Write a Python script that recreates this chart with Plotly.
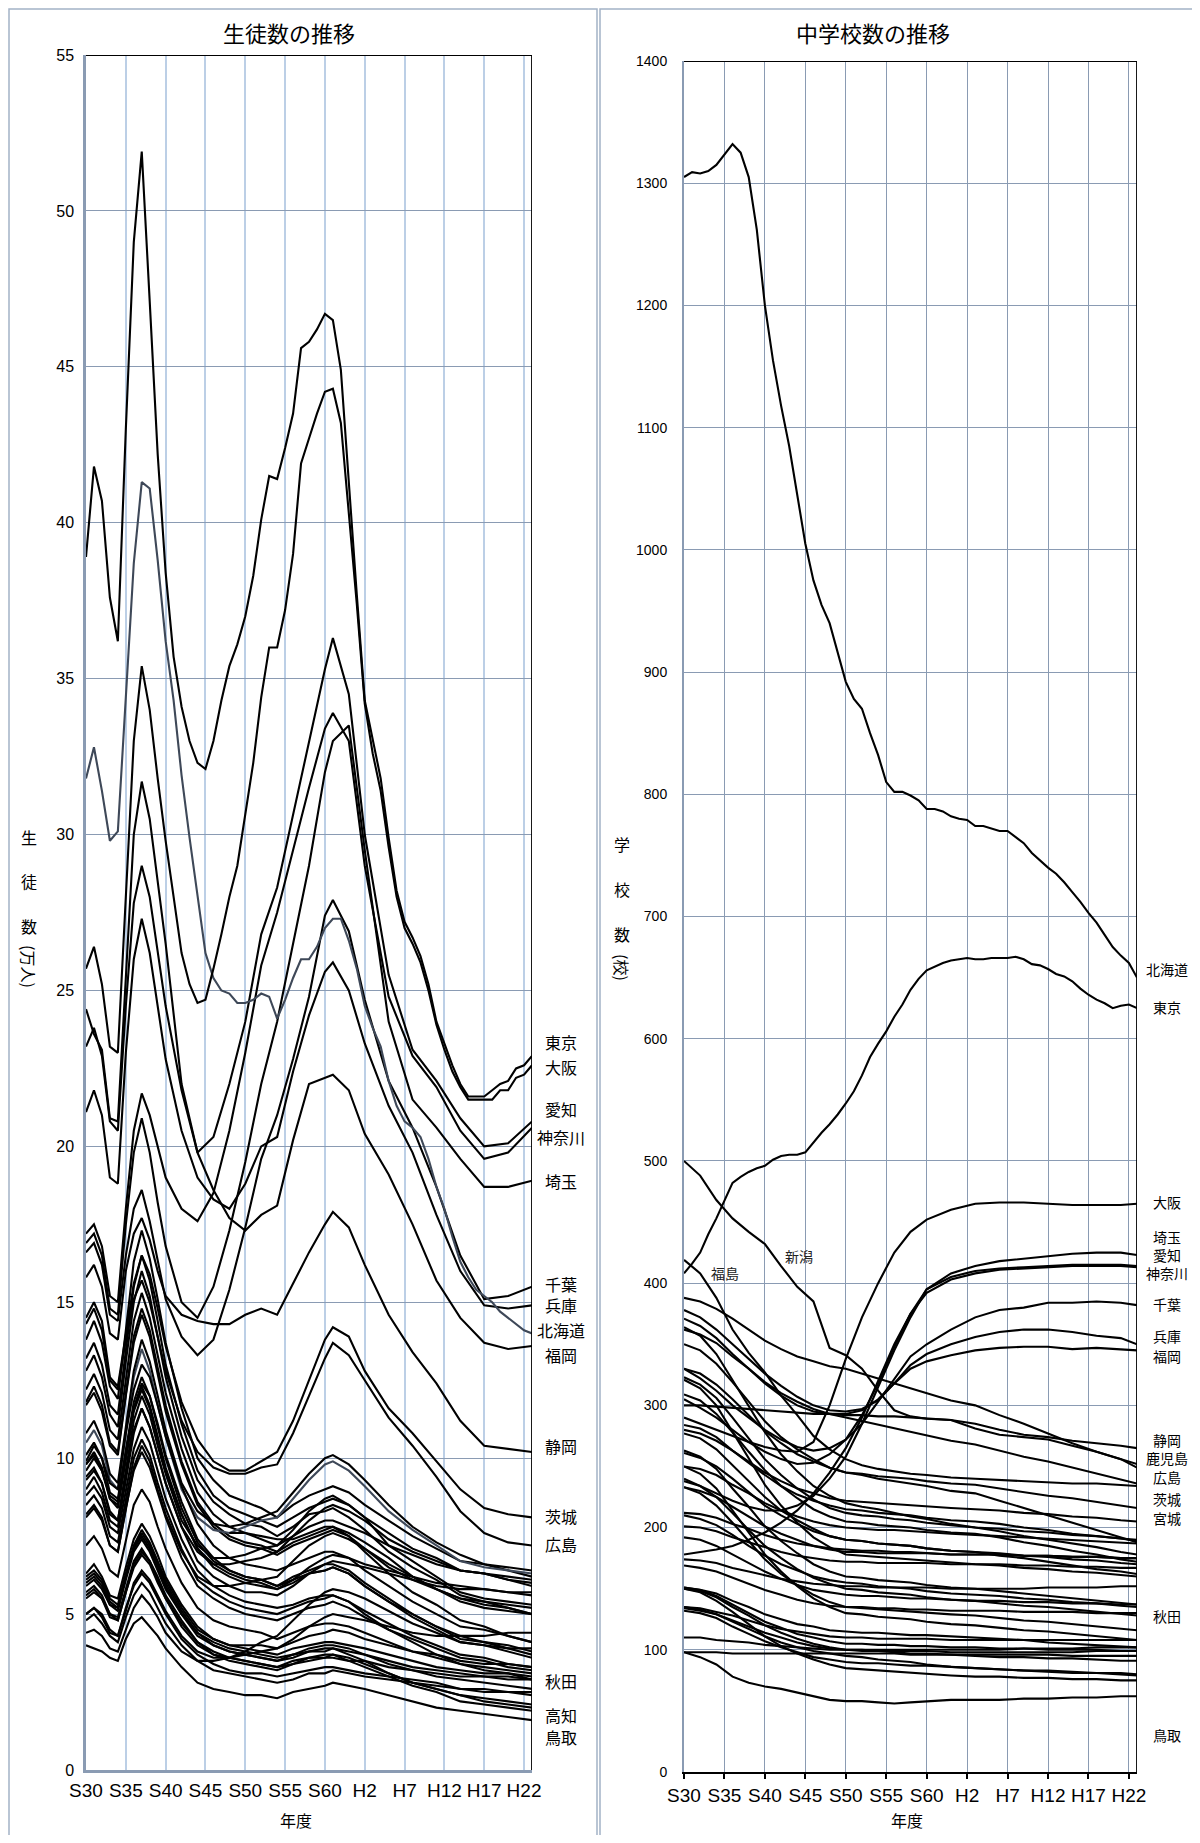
import plotly.graph_objects as go

# page body has an 8px margin: figure is sized/placed so the page matches 1200x1843
OFF = 8
W, H = 1184, 1827

YEARS = list(range(1955, 2012))
LKEY = [1955, 1956, 1957, 1958, 1959, 1960, 1961, 1962, 1963, 1964, 1965, 1967, 1969, 1971, 1973,
        1975, 1977, 1979, 1981, 1983, 1985, 1986, 1988, 1990, 1993, 1996, 1999, 2002, 2005, 2008, 2011]
RKEY = [1955, 1957, 1959, 1961, 1963, 1965, 1967, 1969, 1971, 1973, 1975, 1977, 1979, 1981, 1983,
        1985, 1988, 1991, 1994, 1997, 2000, 2003, 2006, 2009, 2011]
TICK_YEARS = [1955, 1960, 1965, 1970, 1975, 1980, 1985, 1990, 1995, 2000, 2005, 2010]
TICK_TEXT = ["S30", "S35", "S40", "S45", "S50", "S55", "S60", "H2", "H7", "H12", "H17", "H22"]

# ---------------- 生徒数 (万人) : yearly series ----------------
ST_TOKYO = [38.9, 41.8, 40.7, 37.6, 36.2, 43.0, 49.0, 51.9, 47.1, 42.2,
            38.4, 35.7, 34.1, 33.0, 32.3, 32.1, 33.0, 34.3, 35.4, 36.1,
            37.0, 38.3, 40.1, 41.5, 41.4, 42.4, 43.5, 45.6, 45.8, 46.2,
            46.7, 46.5, 44.9, 41.2, 37.7, 34.3, 33.0, 31.8, 29.9, 28.2,
            27.2, 26.7, 26.1, 25.2, 24.0, 23.3, 22.6, 22.0, 21.6, 21.6,
            21.6, 21.8, 22.0, 22.1, 22.5, 22.6, 22.9]
ST_OSAKA = [25.7, 26.4, 25.2, 23.2, 23.0, 28.0, 33.0, 35.4, 34.0, 31.8,
            29.8, 28.0, 26.2, 25.2, 24.6, 24.7, 25.7, 26.8, 28.0, 29.0,
            30.6, 32.3, 34.4, 36.0, 36.0, 37.2, 39.0, 41.9, 42.7, 43.5,
            44.2, 44.3, 43.2, 40.4, 37.4, 34.2, 32.6, 31.4, 29.6, 28.0,
            27.0, 26.5, 25.9, 25.0, 23.9, 23.1, 22.4, 21.9, 21.5, 21.5,
            21.5, 21.5, 21.8, 21.8, 22.2, 22.3, 22.6]
ST_HOKKAIDO = [31.8, 32.8, 31.4, 29.8, 30.1, 34.5, 38.7, 41.3, 41.1, 38.8,
               36.2, 34.3, 31.9, 29.9, 28.0, 26.2, 25.4, 25.0, 24.9, 24.6,
               24.6, 24.7, 24.9, 24.8, 24.1, 24.7, 25.4, 26.0, 26.0, 26.4,
               27.0, 27.3, 27.3, 26.6, 25.7, 24.5, 23.8, 23.2, 22.1, 21.3,
               20.8, 20.6, 20.3, 19.6, 18.7, 18.0, 17.1, 16.3, 15.8, 15.4,
               15.2, 15.0, 14.7, 14.5, 14.3, 14.1, 14.0]

# ---------------- 生徒数 : key-year series (LKEY) ----------------
ST_AICHI = [24.4, 23.6, 23.1, 20.9, 20.8, 25.5, 30.0, 31.7, 30.5, 28.5, 26.5, 22.0, 19.8, 20.3, 22.0, 24.0, 26.8, 28.3, 30.6, 33.0, 35.3, 36.3, 34.5, 30.0, 25.5, 23.1, 22.1, 20.9, 20.0, 20.1, 20.8]
ST_KANAGAWA = [17.2, 17.5, 16.8, 15.2, 15.0, 18.0, 20.5, 21.7, 21.0, 20.0, 19.0, 18.0, 17.6, 18.5, 20.5, 23.0, 25.8, 27.5, 29.5, 31.5, 33.4, 33.9, 33.0, 29.0, 24.8, 22.9, 21.9, 20.5, 19.6, 19.8, 20.6]
ST_SAITAMA = [16.9, 17.2, 16.5, 14.8, 14.6, 17.5, 19.8, 20.9, 19.8, 18.2, 16.8, 15.0, 14.5, 15.5, 17.3, 19.5, 22.0, 24.0, 26.5, 29.0, 32.0, 33.0, 33.5, 29.5, 24.0, 21.5, 20.6, 19.6, 18.7, 18.7, 18.9]
ST_CHIBA = [16.6, 16.9, 16.2, 14.6, 14.4, 16.5, 18.0, 18.6, 17.6, 16.3, 15.1, 13.9, 13.3, 13.8, 15.4, 17.4, 19.6, 21.0, 22.8, 24.8, 27.4, 27.9, 26.9, 24.7, 22.1, 20.6, 18.7, 16.5, 15.1, 15.2, 15.5]
ST_HYOGO = [21.1, 21.8, 21.0, 19.0, 18.8, 23.0, 26.0, 27.3, 26.2, 24.5, 22.8, 20.5, 19.0, 18.3, 18.0, 18.8, 20.0, 20.3, 22.4, 24.2, 25.6, 25.9, 25.0, 23.3, 21.3, 19.8, 17.8, 16.0, 14.9, 14.8, 14.9]
ST_FUKUOKA = [23.2, 23.8, 22.9, 20.8, 20.5, 24.5, 27.8, 29.0, 28.0, 26.3, 24.5, 21.8, 19.8, 18.6, 17.7, 17.3, 17.8, 18.1, 20.2, 22.0, 22.2, 22.3, 21.8, 20.4, 19.1, 17.5, 15.7, 14.5, 13.7, 13.5, 13.6]
ST_SHIZUOKA = [15.8, 16.2, 15.5, 14.0, 13.8, 16.0, 17.2, 17.7, 17.0, 16.0, 15.2, 14.6, 14.4, 14.3, 14.3, 14.6, 14.8, 14.6, 15.6, 16.6, 17.5, 17.9, 17.4, 16.2, 14.6, 13.4, 12.4, 11.2, 10.4, 10.3, 10.2]
ST_IBARAKI = [14.5, 15.0, 14.4, 12.6, 12.3, 14.0, 15.6, 16.5, 15.9, 14.8, 13.6, 11.8, 10.6, 9.9, 9.6, 9.6, 9.9, 10.2, 11.2, 12.5, 13.8, 14.2, 13.9, 12.8, 11.6, 10.8, 9.9, 9.0, 8.4, 8.2, 8.1]
ST_HIROSHIMA = [14.3, 14.8, 14.1, 12.5, 12.2, 13.8, 15.1, 15.7, 15.0, 13.9, 12.8, 11.2, 10.2, 9.7, 9.5, 9.5, 9.7, 9.8, 10.8, 12.0, 13.2, 13.7, 13.3, 12.5, 11.3, 10.4, 9.4, 8.3, 7.6, 7.3, 7.2]
ST_NIIGATA = [13.8, 14.4, 13.7, 12.3, 11.9, 14.2, 16.3, 17.3, 16.4, 15.1, 13.7, 11.6, 10.0, 9.3, 8.8, 8.6, 8.4, 8.1, 8.5, 8.8, 9.0, 9.1, 8.9, 8.5, 8.0, 7.5, 7.1, 6.7, 6.6, 6.4, 6.2]
ST_KAGOSHIMA = [12.8, 13.3, 12.6, 11.4, 11.0, 13.1, 15.0, 16.0, 15.2, 13.9, 12.6, 10.7, 9.3, 8.6, 8.2, 7.9, 7.8, 7.5, 7.8, 8.2, 8.3, 8.4, 8.1, 7.7, 7.0, 6.5, 6.1, 5.6, 5.4, 5.2, 5.0]
ST_NAGANO = [12.2, 12.7, 12.1, 10.9, 10.6, 12.5, 14.4, 15.3, 14.5, 13.3, 12.1, 10.3, 8.9, 8.2, 7.8, 7.6, 7.4, 7.2, 7.5, 7.8, 8.0, 8.0, 7.8, 7.6, 7.2, 6.9, 6.6, 6.4, 6.3, 6.1, 6.0]
ST_FUKUSHIMA = [13.2, 13.7, 13.0, 11.7, 11.4, 13.5, 15.5, 16.5, 15.7, 14.4, 13.0, 11.1, 9.6, 8.8, 8.4, 8.2, 8.0, 7.8, 8.1, 8.4, 8.6, 8.7, 8.5, 8.1, 7.6, 7.1, 6.8, 6.4, 6.3, 6.1, 5.9]
ST_KUMAMOTO = [11.7, 12.1, 11.5, 10.4, 10.1, 12.0, 13.7, 14.6, 13.9, 12.7, 11.5, 9.8, 8.5, 7.8, 7.4, 7.2, 7.1, 6.9, 7.2, 7.4, 7.6, 7.7, 7.5, 7.1, 6.6, 6.2, 5.8, 5.5, 5.3, 5.2, 5.0]
ST_NAGASAKI = [11.8, 12.3, 11.7, 10.5, 10.2, 12.1, 13.9, 14.8, 14.1, 12.9, 11.7, 9.9, 8.6, 7.9, 7.5, 7.3, 7.2, 7.0, 7.3, 7.5, 7.7, 7.8, 7.5, 7.0, 6.3, 5.7, 5.3, 4.8, 4.6, 4.3, 4.1]
ST_MIYAGI = [10.5, 10.9, 10.4, 9.3, 9.0, 10.8, 12.6, 13.5, 12.8, 11.7, 10.7, 9.0, 8.1, 7.7, 7.6, 7.8, 8.0, 8.1, 8.7, 9.3, 9.8, 9.9, 9.6, 9.1, 8.3, 7.7, 7.2, 6.7, 6.5, 6.4, 6.3]
ST_OKAYAMA = [9.4, 9.7, 9.2, 8.3, 8.0, 9.6, 11.2, 12.0, 11.4, 10.4, 9.5, 8.0, 7.2, 6.8, 6.8, 6.9, 7.1, 7.2, 7.7, 8.3, 8.7, 8.8, 8.5, 8.1, 7.2, 6.7, 6.2, 5.7, 5.5, 5.4, 5.3]
ST_KYOTO = [10.8, 11.2, 10.6, 9.5, 9.2, 11.0, 12.8, 13.8, 13.1, 12.0, 10.9, 9.2, 8.3, 7.9, 7.8, 7.9, 8.1, 8.3, 8.9, 9.5, 10.0, 10.1, 9.8, 9.3, 8.5, 7.8, 7.3, 6.9, 6.6, 6.5, 6.4]
ST_GIFU = [9.0, 9.4, 8.9, 8.0, 7.8, 9.3, 10.8, 11.6, 11.0, 10.1, 9.2, 7.8, 7.0, 6.6, 6.6, 6.7, 6.8, 7.0, 7.5, 8.0, 8.4, 8.5, 8.3, 8.0, 7.4, 7.0, 6.7, 6.4, 6.3, 6.2, 6.1]
ST_GUNMA = [9.8, 10.1, 9.6, 8.7, 8.4, 10.0, 11.5, 12.2, 11.6, 10.6, 9.6, 8.2, 7.1, 6.5, 6.2, 6.0, 5.9, 5.8, 6.1, 6.5, 6.8, 6.9, 6.8, 6.6, 6.4, 6.2, 6.0, 5.9, 5.8, 5.7, 5.6]
ST_TOCHIGI = [9.3, 9.6, 9.2, 8.2, 8.0, 9.5, 10.9, 11.6, 11.0, 10.1, 9.2, 7.8, 6.7, 6.2, 5.9, 5.7, 5.7, 5.6, 5.9, 6.3, 6.6, 6.7, 6.6, 6.5, 6.3, 6.1, 5.9, 5.8, 5.8, 5.7, 5.7]
ST_YAMAGUCHI = [9.8, 10.2, 9.7, 8.7, 8.5, 10.1, 11.6, 12.3, 11.7, 10.7, 9.7, 8.2, 7.1, 6.6, 6.3, 6.1, 6.0, 5.8, 6.0, 6.3, 6.4, 6.5, 6.3, 5.9, 5.4, 4.9, 4.5, 4.1, 4.0, 3.8, 3.6]
ST_EHIME = [10.1, 10.5, 10.0, 8.9, 8.7, 10.3, 11.8, 12.6, 12.0, 11.0, 10.0, 8.4, 7.3, 6.7, 6.4, 6.2, 6.1, 5.9, 6.2, 6.4, 6.6, 6.6, 6.4, 6.0, 5.5, 5.0, 4.6, 4.2, 4.1, 3.9, 3.7]
ST_AOMORI = [9.9, 10.4, 10.0, 9.2, 9.0, 10.8, 12.2, 13.0, 12.6, 11.7, 10.7, 9.1, 7.9, 7.2, 6.8, 6.6, 6.5, 6.4, 6.6, 6.8, 7.0, 7.0, 6.8, 6.4, 5.9, 5.4, 5.0, 4.6, 4.5, 4.3, 4.1]
ST_IWATE = [9.6, 10.0, 9.6, 8.8, 8.6, 10.2, 11.6, 12.4, 12.0, 11.1, 10.1, 8.6, 7.4, 6.8, 6.4, 6.2, 6.1, 5.9, 6.1, 6.3, 6.4, 6.5, 6.3, 5.9, 5.4, 5.0, 4.6, 4.3, 4.1, 4.0, 3.8]
ST_AKITA = [8.8, 9.1, 8.7, 7.8, 7.6, 9.0, 10.3, 11.0, 10.5, 9.6, 8.7, 7.4, 6.4, 5.9, 5.6, 5.4, 5.3, 5.2, 5.3, 5.5, 5.6, 5.6, 5.4, 5.0, 4.5, 4.1, 3.7, 3.4, 3.2, 3.1, 2.9]
ST_YAMAGATA = [8.5, 8.8, 8.4, 7.5, 7.3, 8.7, 10.0, 10.6, 10.1, 9.2, 8.4, 7.1, 6.1, 5.7, 5.4, 5.2, 5.1, 5.0, 5.2, 5.4, 5.5, 5.6, 5.4, 5.1, 4.7, 4.3, 4.0, 3.7, 3.6, 3.4, 3.3]
ST_MIE = [8.1, 8.4, 8.0, 7.2, 7.0, 8.3, 9.7, 10.4, 9.9, 9.0, 8.2, 7.0, 6.2, 5.9, 5.9, 6.0, 6.1, 6.2, 6.7, 7.2, 7.5, 7.6, 7.4, 7.1, 6.5, 6.1, 5.8, 5.5, 5.4, 5.3, 5.2]
ST_OITA = [8.2, 8.5, 8.1, 7.2, 7.0, 8.4, 9.6, 10.2, 9.7, 8.9, 8.1, 6.8, 5.9, 5.5, 5.2, 5.0, 4.9, 4.8, 5.0, 5.2, 5.3, 5.4, 5.2, 4.9, 4.5, 4.2, 3.9, 3.6, 3.5, 3.3, 3.2]
ST_MIYAZAKI = [7.2, 7.5, 7.1, 6.4, 6.2, 7.4, 8.5, 9.0, 8.6, 7.8, 7.1, 6.0, 5.2, 4.8, 4.6, 4.5, 4.4, 4.2, 4.4, 4.6, 4.7, 4.7, 4.6, 4.4, 4.1, 3.8, 3.6, 3.4, 3.3, 3.2, 3.1]
ST_SAGA = [6.1, 6.3, 6.0, 5.4, 5.2, 6.2, 7.1, 7.6, 7.2, 6.6, 6.0, 5.1, 4.4, 4.1, 3.9, 3.8, 3.7, 3.6, 3.7, 3.9, 4.0, 4.0, 3.9, 3.7, 3.4, 3.2, 3.0, 2.9, 2.8, 2.7, 2.6]
ST_TOYAMA = [6.3, 6.6, 6.2, 5.6, 5.5, 6.5, 7.4, 7.9, 7.5, 6.9, 6.2, 5.3, 4.6, 4.2, 4.0, 3.9, 3.8, 3.7, 3.9, 4.0, 4.1, 4.1, 4.0, 3.9, 3.7, 3.5, 3.3, 3.2, 3.1, 3.1, 3.0]
ST_ISHIKAWA = [6.2, 6.4, 6.1, 5.5, 5.3, 6.3, 7.2, 7.7, 7.3, 6.7, 6.1, 5.2, 4.5, 4.2, 4.0, 4.0, 4.0, 3.9, 4.1, 4.3, 4.4, 4.5, 4.4, 4.2, 4.0, 3.8, 3.7, 3.5, 3.4, 3.4, 3.3]
ST_WAKAYAMA = [5.9, 6.1, 5.8, 5.3, 5.1, 6.1, 7.0, 7.4, 7.0, 6.4, 5.8, 5.0, 4.3, 4.0, 3.8, 3.7, 3.6, 3.5, 3.6, 3.8, 3.8, 3.9, 3.8, 3.7, 3.5, 3.3, 3.2, 3.1, 3.0, 3.0, 2.9]
ST_KAGAWA = [5.5, 5.7, 5.5, 4.9, 4.8, 5.7, 6.5, 6.9, 6.6, 6.0, 5.5, 4.6, 4.0, 3.7, 3.5, 3.4, 3.3, 3.2, 3.4, 3.5, 3.6, 3.6, 3.5, 3.5, 3.3, 3.2, 3.1, 3.0, 3.0, 2.9, 2.9]
ST_TOKUSHIMA = [5.7, 5.9, 5.6, 5.0, 4.9, 5.8, 6.7, 7.1, 6.7, 6.2, 5.6, 4.8, 4.1, 3.8, 3.6, 3.5, 3.4, 3.3, 3.5, 3.6, 3.7, 3.7, 3.6, 3.4, 3.1, 2.8, 2.6, 2.4, 2.3, 2.2, 2.1]
ST_SHIMANE = [6.0, 6.2, 5.9, 5.3, 5.2, 6.2, 7.1, 7.5, 7.1, 6.5, 5.9, 5.0, 4.4, 4.0, 3.8, 3.7, 3.6, 3.5, 3.7, 3.8, 3.9, 3.9, 3.7, 3.5, 3.1, 2.8, 2.6, 2.4, 2.2, 2.1, 2.0]
ST_KOCHI = [5.6, 5.8, 5.5, 5.0, 4.8, 5.7, 6.6, 7.0, 6.7, 6.1, 5.5, 4.7, 4.1, 3.7, 3.6, 3.5, 3.4, 3.3, 3.4, 3.6, 3.6, 3.7, 3.5, 3.3, 3.0, 2.7, 2.5, 2.2, 2.1, 2.0, 1.9]
ST_YAMANASHI = [5.0, 5.2, 5.0, 4.5, 4.3, 5.2, 5.9, 6.3, 6.0, 5.5, 5.0, 4.2, 3.7, 3.4, 3.2, 3.1, 3.1, 3.0, 3.1, 3.2, 3.3, 3.3, 3.2, 3.1, 3.0, 2.9, 2.8, 2.6, 2.6, 2.5, 2.5]
ST_FUKUI = [4.8, 5.0, 4.7, 4.3, 4.1, 4.9, 5.6, 6.0, 5.7, 5.2, 4.7, 4.0, 3.5, 3.2, 3.1, 3.0, 2.9, 2.8, 2.9, 3.1, 3.1, 3.2, 3.1, 3.0, 2.9, 2.8, 2.7, 2.6, 2.5, 2.5, 2.4]
ST_SHIGA = [5.0, 5.2, 4.9, 4.4, 4.3, 5.1, 6.0, 6.4, 6.1, 5.6, 5.1, 4.3, 3.8, 3.6, 3.6, 3.7, 3.8, 3.9, 4.2, 4.6, 4.9, 5.0, 4.9, 4.8, 4.6, 4.4, 4.3, 4.3, 4.3, 4.4, 4.4]
ST_NARA = [4.4, 4.5, 4.3, 3.9, 3.8, 4.5, 5.2, 5.6, 5.3, 4.9, 4.4, 3.8, 3.5, 3.5, 3.6, 3.8, 4.1, 4.3, 4.8, 5.3, 5.7, 5.8, 5.7, 5.5, 5.1, 4.7, 4.4, 4.1, 4.0, 3.9, 3.9]
ST_TOTTORI = [4.0, 3.9, 3.8, 3.6, 3.5, 4.2, 4.7, 4.9, 4.6, 4.3, 3.9, 3.3, 2.8, 2.6, 2.5, 2.4, 2.4, 2.3, 2.5, 2.6, 2.7, 2.8, 2.7, 2.6, 2.4, 2.2, 2.0, 1.9, 1.8, 1.7, 1.6]
ST_OKINAWA = [None, None, None, None, None, None, None, None, None, None, None, None, None, None,
              7.6, 7.6, 7.5, 7.4, 7.4, 7.6, 7.8, 7.8, 7.6, 7.3, 6.8, 6.2, 5.8, 5.4, 5.2, 5.1, 5.0]

# ---------------- 中学校数 (校) ----------------
SC_HOKKAIDO = [1305, 1309, 1308, 1310, 1315, 1324, 1332, 1325, 1305, 1262,
               1200, 1155, 1118, 1085, 1045, 1005, 975, 955, 940, 915,
               892, 878, 870, 850, 832, 810, 802, 802, 799, 795,
               788, 788, 786, 782, 780, 779, 774, 774, 772, 770,
               770, 765, 760, 752, 746, 740, 735, 728, 720, 712,
               703, 695, 685, 675, 668, 662, 650]
SC_TOKYO = [408, 416, 425, 440, 453, 468, 482, 487, 491, 494,
            496, 501, 504, 505, 505, 507, 515, 523, 530, 538,
            547, 557, 570, 585, 596, 606, 618, 628, 640, 649,
            656, 659, 662, 664, 665, 666, 665, 665, 666, 666,
            666, 667, 665, 661, 660, 657, 653, 651, 647, 641,
            636, 632, 629, 625, 627, 628, 625]
SC_OSAKA = [290, 285, 280, 275, 270, 266, 263, 262, 270, 300, 338, 372, 400, 425, 442, 452, 460, 465, 466, 466, 465, 464, 464, 464, 465]
SC_SAITAMA = [240, 234, 228, 222, 217, 214, 214, 218, 226, 240, 258, 285, 315, 345, 372, 395, 408, 414, 418, 420, 422, 424, 425, 425, 423]
SC_AICHI = [305, 298, 290, 280, 270, 262, 256, 252, 253, 260, 272, 292, 318, 348, 375, 395, 405, 410, 412, 413, 414, 415, 415, 415, 414]
SC_KANAGAWA = [178, 180, 182, 185, 190, 196, 204, 214, 228, 245, 265, 290, 320, 350, 375, 392, 403, 408, 411, 412, 413, 414, 414, 414, 413]
SC_CHIBA = [330, 322, 312, 300, 290, 280, 272, 266, 263, 265, 272, 285, 303, 322, 340, 350, 362, 372, 378, 380, 384, 384, 385, 384, 382]
SC_HYOGO = [378, 372, 362, 350, 338, 326, 316, 307, 300, 296, 295, 297, 304, 318, 333, 342, 350, 356, 360, 362, 362, 360, 357, 355, 350]
SC_FUKUOKA = [371, 365, 355, 342, 330, 318, 308, 300, 295, 293, 293, 296, 305, 318, 330, 336, 341, 345, 347, 348, 348, 346, 347, 346, 345]
SC_NIIGATA = [500, 488, 468, 453, 442, 432, 414, 397, 385, 347, 341, 330, 312, 296, 291, 289, 288, 281, 276, 274, 272, 267, 262, 256, 249]
SC_FUKUSHIMA = [419, 408, 388, 362, 343, 327, 308, 292, 275, 264, 256, 251, 248, 246, 244, 243, 241, 240, 239, 238, 237, 236, 236, 235, 234]
SC_SHIZUOKA = [300, 300, 299, 298, 297, 296, 295, 294, 293, 293, 292, 292, 291, 291, 290, 289, 288, 285, 280, 276, 274, 271, 269, 267, 265]
SC_KAGOSHIMA = [388, 385, 379, 371, 362, 353, 346, 340, 336, 332, 330, 326, 322, 318, 314, 310, 304, 300, 292, 285, 277, 269, 262, 256, 252]
SC_HIROSHIMA = [362, 358, 351, 340, 330, 319, 310, 303, 297, 293, 290, 287, 284, 281, 278, 275, 271, 268, 263, 258, 254, 249, 244, 239, 236]
SC_IBARAKI = [330, 326, 317, 305, 292, 279, 269, 260, 254, 249, 245, 244, 242, 241, 240, 238, 236, 235, 232, 229, 226, 224, 221, 218, 216]
SC_MIYAGI = [280, 277, 271, 263, 254, 245, 238, 232, 228, 224, 222, 221, 220, 219, 218, 217, 216, 215, 214, 212, 211, 209, 208, 206, 205]
SC_NAGANO = [364, 357, 342, 321, 299, 278, 260, 246, 234, 226, 220, 217, 215, 212, 209, 207, 203, 200, 199, 197, 196, 194, 193, 191, 190]
SC_IWATE = [350, 345, 334, 319, 303, 287, 274, 264, 256, 249, 245, 243, 240, 238, 236, 234, 230, 228, 222, 216, 210, 204, 198, 192, 188]
SC_KUMAMOTO = [323, 317, 306, 290, 273, 256, 243, 232, 223, 216, 212, 210, 209, 207, 206, 204, 202, 200, 197, 193, 190, 187, 184, 180, 178]
SC_NAGASAKI = [284, 281, 274, 263, 253, 243, 234, 227, 222, 218, 215, 214, 212, 211, 210, 208, 206, 205, 203, 200, 198, 195, 193, 191, 189]
SC_GIFU = [250, 248, 243, 235, 228, 220, 214, 209, 205, 202, 200, 199, 198, 198, 197, 196, 195, 194, 193, 192, 191, 190, 189, 188, 187]
SC_AOMORI = [309, 304, 293, 278, 262, 247, 234, 224, 215, 209, 205, 204, 202, 201, 200, 198, 196, 195, 192, 188, 185, 181, 178, 174, 172]
SC_GUNMA = [233, 230, 225, 217, 209, 201, 195, 190, 185, 182, 180, 180, 179, 179, 179, 179, 178, 178, 178, 177, 177, 176, 176, 175, 175]
SC_TOCHIGI = [201, 200, 197, 192, 188, 184, 180, 177, 175, 173, 172, 172, 171, 171, 171, 171, 170, 170, 170, 169, 169, 168, 168, 167, 167]
SC_YAMAGUCHI = [277, 273, 264, 251, 238, 225, 214, 206, 199, 193, 190, 189, 187, 186, 185, 183, 181, 180, 177, 175, 172, 169, 166, 164, 162]
SC_OKAYAMA = [321, 314, 300, 278, 257, 235, 218, 204, 192, 184, 178, 177, 176, 175, 174, 173, 171, 170, 169, 167, 166, 164, 163, 161, 160]
SC_KYOTO = [212, 211, 208, 203, 199, 194, 190, 187, 185, 183, 182, 181, 181, 180, 180, 179, 178, 178, 178, 177, 177, 176, 176, 175, 175]
SC_MIE = [261, 257, 250, 240, 229, 218, 210, 203, 197, 193, 190, 189, 187, 186, 185, 183, 181, 180, 179, 177, 176, 174, 173, 171, 170]
SC_EHIME = [263, 258, 248, 232, 217, 201, 189, 179, 170, 164, 160, 159, 157, 156, 155, 153, 151, 150, 148, 146, 144, 142, 140, 138, 137]
SC_AKITA = [238, 234, 225, 212, 198, 185, 175, 166, 159, 154, 150, 149, 147, 146, 145, 143, 141, 140, 138, 136, 135, 133, 131, 129, 128]
SC_YAMAGATA = [250, 244, 232, 214, 196, 178, 164, 152, 142, 135, 130, 129, 127, 126, 125, 123, 121, 120, 118, 116, 115, 113, 111, 109, 108]
SC_OITA = [210, 207, 202, 194, 185, 177, 170, 165, 160, 157, 155, 154, 152, 151, 150, 148, 146, 145, 144, 142, 141, 139, 138, 136, 135]
SC_MIYAZAKI = [192, 190, 185, 178, 171, 164, 158, 153, 149, 147, 145, 144, 144, 143, 142, 142, 141, 140, 140, 139, 139, 138, 138, 137, 137]
SC_OKINAWA = [174, 173, 171, 167, 164, 161, 158, 156, 154, 153, 152, 152, 151, 151, 151, 151, 150, 150, 150, 150, 151, 151, 151, 152, 152]
SC_KOCHI = [233, 228, 218, 204, 189, 174, 162, 153, 145, 139, 135, 134, 133, 132, 131, 130, 129, 128, 126, 124, 123, 121, 119, 117, 116]
SC_SHIMANE = [151, 149, 146, 140, 135, 129, 125, 121, 119, 116, 115, 114, 114, 113, 112, 112, 111, 110, 109, 108, 106, 105, 104, 103, 102]
SC_WAKAYAMA = [169, 167, 164, 159, 154, 149, 145, 141, 138, 136, 135, 135, 134, 134, 133, 133, 132, 132, 132, 131, 131, 131, 130, 130, 130]
SC_NARA = [135, 134, 131, 128, 124, 120, 117, 115, 113, 111, 110, 110, 109, 109, 109, 109, 108, 108, 108, 108, 108, 108, 108, 108, 108]
SC_SHIGA = [134, 132, 129, 124, 119, 114, 110, 106, 103, 101, 100, 100, 100, 100, 100, 100, 100, 100, 100, 101, 101, 101, 102, 102, 102]
SC_ISHIKAWA = [150, 148, 143, 135, 128, 120, 114, 109, 105, 102, 100, 99, 99, 98, 97, 97, 96, 95, 94, 94, 93, 93, 92, 91, 91]
SC_TOYAMA = [132, 130, 126, 119, 113, 107, 102, 98, 94, 92, 90, 89, 89, 88, 87, 87, 86, 85, 84, 83, 83, 82, 81, 81, 80]
SC_FUKUI = [135, 133, 129, 123, 117, 111, 106, 102, 99, 97, 95, 94, 92, 91, 90, 88, 86, 85, 84, 83, 82, 81, 81, 80, 79]
SC_YAMANASHI = [98, 98, 98, 97, 97, 97, 97, 97, 97, 97, 97, 97, 97, 97, 96, 96, 96, 96, 96, 96, 96, 95, 95, 95, 95]
SC_TOKUSHIMA = [151, 149, 144, 137, 130, 123, 118, 113, 110, 107, 105, 105, 104, 104, 103, 103, 102, 102, 101, 101, 100, 100, 100, 99, 99]
SC_KAGAWA = [150, 147, 140, 131, 121, 111, 103, 97, 92, 88, 85, 84, 83, 82, 81, 80, 79, 78, 78, 77, 77, 76, 76, 75, 75]
SC_SAGA = [110, 110, 108, 107, 106, 104, 103, 102, 101, 100, 100, 100, 99, 99, 99, 99, 98, 98, 98, 98, 98, 98, 99, 99, 99]
SC_TOTTORI = [98, 94, 88, 78, 73, 70, 68, 65, 62, 59, 58, 58, 57, 56, 57, 58, 59, 59, 59, 60, 60, 61, 61, 62, 62]

# labels at the right end of each panel: (text, value)
LEFT_LABELS = [("東京", 23.35), ("大阪", 22.55), ("愛知", 21.2), ("神奈川", 20.3), ("埼玉", 18.9),
               ("千葉", 15.6), ("兵庫", 14.9), ("北海道", 14.1), ("福岡", 13.3), ("静岡", 10.4),
               ("茨城", 8.15), ("広島", 7.25), ("秋田", 2.85), ("高知", 1.75), ("鳥取", 1.05)]
RIGHT_LABELS = [("北海道", 657), ("東京", 626), ("大阪", 466), ("埼玉", 438), ("愛知", 423),
                ("神奈川", 408), ("千葉", 383), ("兵庫", 357), ("福岡", 340), ("静岡", 272),
                ("鹿児島", 257), ("広島", 241), ("茨城", 223), ("宮城", 208), ("秋田", 128), ("鳥取", 30)]

BLACK = "#000000"
SLATE = "#3e4858"

left_series = [
    (LKEY, ST_NIIGATA, BLACK), (LKEY, ST_KAGOSHIMA, BLACK), (LKEY, ST_NAGANO, BLACK),
    (LKEY, ST_FUKUSHIMA, BLACK), (LKEY, ST_KUMAMOTO, BLACK), (LKEY, ST_NAGASAKI, BLACK),
    (LKEY, ST_MIYAGI, SLATE), (LKEY, ST_OKAYAMA, BLACK), (LKEY, ST_KYOTO, BLACK),
    (LKEY, ST_GIFU, BLACK), (LKEY, ST_GUNMA, BLACK), (LKEY, ST_TOCHIGI, BLACK),
    (LKEY, ST_YAMAGUCHI, BLACK), (LKEY, ST_EHIME, BLACK), (LKEY, ST_AOMORI, BLACK),
    (LKEY, ST_IWATE, BLACK), (LKEY, ST_AKITA, BLACK), (LKEY, ST_YAMAGATA, BLACK),
    (LKEY, ST_MIE, BLACK), (LKEY, ST_OITA, BLACK), (LKEY, ST_MIYAZAKI, BLACK),
    (LKEY, ST_SAGA, BLACK), (LKEY, ST_TOYAMA, BLACK), (LKEY, ST_ISHIKAWA, BLACK),
    (LKEY, ST_WAKAYAMA, BLACK), (LKEY, ST_KAGAWA, BLACK), (LKEY, ST_TOKUSHIMA, BLACK),
    (LKEY, ST_SHIMANE, BLACK), (LKEY, ST_KOCHI, BLACK), (LKEY, ST_YAMANASHI, BLACK),
    (LKEY, ST_FUKUI, BLACK), (LKEY, ST_SHIGA, BLACK), (LKEY, ST_NARA, BLACK),
    (LKEY, ST_TOTTORI, BLACK), (LKEY, ST_OKINAWA, BLACK),
    (LKEY, ST_HIROSHIMA, BLACK), (LKEY, ST_IBARAKI, BLACK), (LKEY, ST_SHIZUOKA, BLACK),
    (LKEY, ST_FUKUOKA, BLACK), (LKEY, ST_HYOGO, BLACK), (LKEY, ST_CHIBA, BLACK),
    (LKEY, ST_SAITAMA, BLACK), (LKEY, ST_KANAGAWA, BLACK), (LKEY, ST_AICHI, BLACK),
    (YEARS, ST_HOKKAIDO, SLATE), (YEARS, ST_OSAKA, BLACK), (YEARS, ST_TOKYO, BLACK),
]
right_series = [
    (RKEY, s) for s in [SC_SHIZUOKA, SC_KAGOSHIMA, SC_HIROSHIMA, SC_IBARAKI, SC_MIYAGI, SC_NAGANO,
                        SC_IWATE, SC_KUMAMOTO, SC_NAGASAKI, SC_GIFU, SC_AOMORI, SC_GUNMA, SC_TOCHIGI,
                        SC_YAMAGUCHI, SC_OKAYAMA, SC_KYOTO, SC_MIE, SC_EHIME, SC_AKITA, SC_YAMAGATA,
                        SC_OITA, SC_MIYAZAKI, SC_OKINAWA, SC_KOCHI, SC_SHIMANE, SC_WAKAYAMA, SC_NARA,
                        SC_SHIGA, SC_ISHIKAWA, SC_TOYAMA, SC_FUKUI, SC_YAMANASHI, SC_TOKUSHIMA,
                        SC_KAGAWA, SC_SAGA, SC_TOTTORI, SC_FUKUSHIMA, SC_NIIGATA, SC_FUKUOKA,
                        SC_HYOGO, SC_CHIBA, SC_KANAGAWA, SC_AICHI, SC_SAITAMA, SC_OSAKA]
] + [(YEARS, SC_TOKYO), (YEARS, SC_HOKKAIDO)]

fig = go.Figure()
for xs, ys, col in left_series:
    fig.add_trace(go.Scatter(x=xs, y=ys, mode="lines", line=dict(color=col, width=2.1),
                             xaxis="x", yaxis="y", hoverinfo="skip", showlegend=False))
for xs, ys in right_series:
    fig.add_trace(go.Scatter(x=xs, y=ys, mode="lines", line=dict(color=BLACK, width=2.1),
                             xaxis="x2", yaxis="y2", hoverinfo="skip", showlegend=False))


def px(v):
    # page pixel x -> paper coordinate
    return (v - OFF) / W


def py(v):
    # page pixel y -> paper coordinate
    return 1 - (v - OFF) / H


JP = "Noto Sans CJK JP, Noto Sans, sans-serif"
NARROW = "Liberation Sans Narrow, Arial Narrow, Liberation Sans, sans-serif"
SANS = "Liberation Sans, Arial, sans-serif"
GRID_DARK = "#8a9bb3"
GRID_LIGHT = "#bccfe6"

fig.update_layout(
    template="none",
    width=W, height=H, margin=dict(l=0, r=0, t=0, b=0, autoexpand=False),
    paper_bgcolor="white", plot_bgcolor="white", showlegend=False,
    xaxis=dict(domain=[px(86), px(532)], range=[1955, 2011], anchor="y", automargin=False,
               tickmode="array", tickvals=TICK_YEARS, ticktext=TICK_TEXT,
               showgrid=True, gridcolor=GRID_LIGHT, gridwidth=1.5,
               showline=True, linecolor=GRID_DARK, linewidth=2.5, ticks="",
               zeroline=False, ticklabelstandoff=1,
               tickfont=dict(family=NARROW, size=19, color="#000")),
    yaxis=dict(domain=[py(1770), py(55)], range=[0, 55], anchor="x", automargin=False,
               tickmode="linear", tick0=0, dtick=5,
               showgrid=True, gridcolor=GRID_DARK, gridwidth=1.3,
               showline=True, linecolor=GRID_DARK, linewidth=2.5, ticks="",
               zeroline=False, ticklabelstandoff=6,
               tickfont=dict(family=SANS, size=16, color="#000")),
    xaxis2=dict(domain=[px(684), px(1137)], range=[1955, 2011], anchor="y2", automargin=False,
                tickmode="array", tickvals=TICK_YEARS, ticktext=TICK_TEXT,
                showgrid=True, gridcolor=GRID_DARK, gridwidth=1.4,
                showline=True, linecolor="#000", linewidth=2, ticks="outside",
                ticklen=5, tickwidth=1.5, tickcolor="#000",
                zeroline=False, ticklabelstandoff=0,
                tickfont=dict(family=NARROW, size=19, color="#000")),
    yaxis2=dict(domain=[py(1772), py(61)], range=[0, 1400], anchor="x2", automargin=False,
                tickmode="linear", tick0=0, dtick=100,
                showgrid=True, gridcolor=GRID_DARK, gridwidth=1.3,
                showline=True, linecolor=GRID_DARK, linewidth=2, ticks="",
                zeroline=False, ticklabelstandoff=12,
                tickfont=dict(family=SANS, size=14, color="#000")),
)

shapes = [
    dict(type="rect", xref="paper", yref="paper", x0=px(9), x1=px(597), y0=py(1860), y1=py(9),
         line=dict(color="#a3b2c6", width=1.5), layer="below"),
    dict(type="rect", xref="paper", yref="paper", x0=px(600), x1=px(1215), y0=py(1860), y1=py(9),
         line=dict(color="#a3b2c6", width=1.5), layer="below"),
    dict(type="line", xref="x", yref="y", x0=1955, x1=2011, y0=55, y1=55, line=dict(color="#000", width=1.8)),
    dict(type="line", xref="x", yref="y", x0=2011, x1=2011, y0=0, y1=55, line=dict(color="#000", width=1.8)),
    dict(type="line", xref="x2", yref="y2", x0=1955, x1=2011, y0=1400, y1=1400, line=dict(color="#000", width=1.8)),
    dict(type="line", xref="x2", yref="y2", x0=2011, x1=2011, y0=0, y1=1400, line=dict(color="#000", width=1.8)),
]

ann = []
ann.append(dict(text="生徒数の推移", x=px(289), y=py(32), xref="paper", yref="paper", showarrow=False,
                font=dict(family=JP, size=22, color="#000"), xanchor="center", yanchor="middle"))
ann.append(dict(text="中学校数の推移", x=px(873), y=py(32), xref="paper", yref="paper", showarrow=False,
                font=dict(family=JP, size=22, color="#000"), xanchor="center", yanchor="middle"))
ann.append(dict(text="年度", x=px(296), y=py(1834), xref="paper", yref="paper", showarrow=False,
                font=dict(family=JP, size=16, color="#000"), xanchor="center", yanchor="bottom"))
ann.append(dict(text="年度", x=px(907), y=py(1834), xref="paper", yref="paper", showarrow=False,
                font=dict(family=JP, size=16, color="#000"), xanchor="center", yanchor="bottom"))

for ch, yy in [("生", 837), ("徒", 881), ("数", 926)]:
    ann.append(dict(text=ch, x=px(29), y=py(yy), xref="paper", yref="paper", showarrow=False,
                    font=dict(family=JP, size=16, color="#000"), xanchor="center", yanchor="middle"))
ann.append(dict(text="(万人)", x=px(29), y=py(966), xref="paper", yref="paper", showarrow=False, textangle=90,
                font=dict(family=JP, size=16, color="#000"), xanchor="center", yanchor="middle"))
for ch, yy in [("学", 844), ("校", 889), ("数", 934)]:
    ann.append(dict(text=ch, x=px(622), y=py(yy), xref="paper", yref="paper", showarrow=False,
                    font=dict(family=JP, size=16, color="#000"), xanchor="center", yanchor="middle"))
ann.append(dict(text="(校)", x=px(622), y=py(968), xref="paper", yref="paper", showarrow=False, textangle=90,
                font=dict(family=JP, size=16, color="#000"), xanchor="center", yanchor="middle"))

for txt, v in LEFT_LABELS:
    ann.append(dict(text=txt, x=px(561), y=v, xref="paper", yref="y", showarrow=False,
                    font=dict(family=JP, size=16, color="#000"), xanchor="center", yanchor="middle"))
for txt, v in RIGHT_LABELS:
    ann.append(dict(text=txt, x=px(1167), y=v, xref="paper", yref="y2", showarrow=False,
                    font=dict(family=JP, size=14, color="#000"), xanchor="center", yanchor="middle"))
ann.append(dict(text="福島", x=1960.1, y=408, xref="x2", yref="y2", showarrow=False,
                font=dict(family=JP, size=14, color="#222"), xanchor="center", yanchor="middle"))
ann.append(dict(text="新潟", x=1969.2, y=422, xref="x2", yref="y2", showarrow=False,
                font=dict(family=JP, size=14, color="#222"), xanchor="center", yanchor="middle"))

fig.update_layout(shapes=shapes, annotations=ann)
fig.write_html("out.html")
